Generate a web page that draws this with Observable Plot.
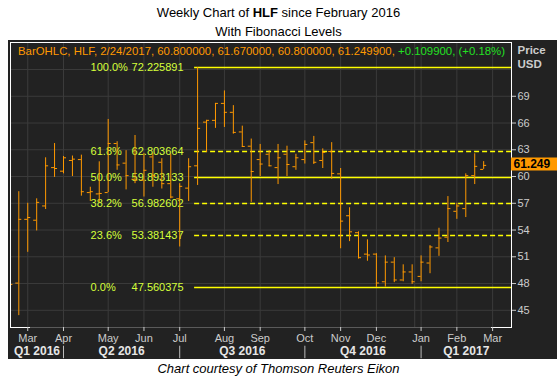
<!DOCTYPE html>
<html><head><meta charset="utf-8">
<script src="https://cdn.jsdelivr.net/npm/d3@7"></script>
<script src="https://cdn.jsdelivr.net/npm/@observablehq/plot@0.6"></script>
<style>
html,body{margin:0;padding:0;background:#fff;}
body{width:557px;height:376px;position:relative;overflow:hidden;font-family:"Liberation Sans",Arial,sans-serif;}
#title{position:absolute;left:0;top:3px;width:557px;text-align:center;font-size:13px;line-height:19px;color:#000;}
#panel{position:absolute;left:8px;top:40px;width:549px;height:319px;background:#222;}
#legend{position:absolute;left:18px;top:44px;font-size:11.4px;line-height:14px;white-space:nowrap;color:#ff9900;}
#caption{position:absolute;left:0;top:359px;width:557px;text-align:center;font-size:13px;line-height:20px;font-style:italic;color:#000;}
</style></head><body>
<div id="title">Weekly Chart of <b>HLF</b> since February 2016<br>With Fibonacci Levels</div>
<div id="panel"></div>
<div id="legend">BarOHLC, HLF, 2/24/2017, 60.800000, 61.670000, 60.800000, 61.249900, <span style="color:#22e022">+0.109900, (+0.18%)</span></div>
<div id="caption">Chart courtesy of Thomson Reuters Eikon</div>
<script>
// Weekly bars (week ending Friday)
const dates = ["2016-02-19","2016-02-26","2016-03-04","2016-03-11","2016-03-18","2016-03-25","2016-04-01","2016-04-08","2016-04-15","2016-04-22","2016-04-29",
"2016-05-06","2016-05-13","2016-05-20","2016-05-27","2016-06-03","2016-06-10","2016-06-17","2016-06-24","2016-07-01","2016-07-08",
"2016-07-15","2016-07-22","2016-07-29","2016-08-05","2016-08-12","2016-08-19","2016-08-26","2016-09-02","2016-09-09","2016-09-16",
"2016-09-23","2016-09-30","2016-10-07","2016-10-14","2016-10-21","2016-10-28","2016-11-04","2016-11-11","2016-11-18","2016-11-25",
"2016-12-02","2016-12-09","2016-12-16","2016-12-23","2016-12-30","2017-01-06","2017-01-13","2017-01-20","2017-01-27","2017-02-03",
"2017-02-10","2017-02-17","2017-02-24"];
const opens  = [46.5,48.05,55.2,55.1,56.7,61.0,60.6,61.8,61.9,58.2,58.05,
58.2,63.7,61.5,59.7,59.6,62.2,61.6,59.2,57.5,58.7,
61.2,66.1,66.3,68.2,67.2,65.0,63.4,61.9,62.5,61.0,
62.5,61.1,61.9,63.8,61.8,62.8,60.3,55.6,53.7,51.3,
51.3,48.2,50.4,48.4,49.3,48.8,50.3,52.0,53.2,56.1,
56.4,60.1,60.8];
const highs  = [48.3,58.3,57.0,57.5,62.1,63.7,62.25,62.3,62.4,58.8,61.65,
66.4,63.9,62.9,64.6,62.6,62.6,62.0,62.5,59.2,62.0,
72.225891,66.3,68.2,69.6,67.95,65.65,64.2,63.6,62.9,63.6,
63.4,62.5,64.0,64.5,63.1,63.8,60.9,56.5,53.8,52.9,
51.35,51.1,50.9,50.1,50.1,51.1,52.25,54.2,57.75,57.0,
60.3,62.55,61.67];
const lows   = [45.8,44.4,51.5,53.9,56.3,59.9,60.3,60.0,57.8,57.2,57.1,
58.2,60.7,58.5,59.2,57.7,58.8,58.6,57.5,52.1,57.2,
59.0,62.7,65.4,65.5,64.75,63.3,57.1,60.0,61.1,59.1,
60.0,60.7,61.4,61.35,60.9,59.7,51.9,52.7,50.75,50.5,
47.560375,47.6,48.1,48.2,47.9,48.2,49.1,51.05,52.6,55.2,
55.4,59.1,60.8];
const closes = [47.9,55.2,55.4,57.1,61.2,60.9,62.1,61.95,58.3,58.3,58.1,
63.7,61.3,60.1,59.6,60.7,60.1,59.2,57.7,58.9,61.1,
65.4,66.3,68.2,67.2,64.95,63.37,60.56,61.4,61.2,62.1,
61.35,62.1,63.6,61.6,62.7,60.35,55.0,53.8,50.9,51.2,
48.06,50.4,48.4,49.3,48.2,50.4,52.1,53.1,56.4,56.7,
60.1,61.14,61.2499];

// Fibonacci retracement levels
const fibPct    = [100.0, 61.8, 50.0, 38.2, 23.6, 0.0];
const fibValues = [72.225891, 62.803664, 59.893133, 56.982602, 53.381437, 47.560375];
const fibDashed = [false, true, false, true, true, false];

// Axis ticks and labels
const yTicks = [45, 48, 51, 54, 57, 60, 63, 66, 69];
const yGrid  = [45, 48, 51, 54, 57, 60, 63, 66, 69, 72];
const monthTicks = ["2016-03-04","2016-04-01","2016-05-06","2016-06-03","2016-07-01","2016-08-05","2016-09-02",
"2016-10-07","2016-11-04","2016-12-02","2017-01-06","2017-02-03","2017-03-03"];
const yearBreak = "2017-01-01";
const quarterBreaks = ["2016-04-01","2016-07-01","2016-10-07","2017-01-06"];
const quarterLabels = ["Q1 2016","Q2 2016","Q3 2016","Q4 2016","Q1 2017"];

const bars = dates.map((d, i) => ({date: new Date(d), open: opens[i], high: highs[i], low: lows[i], close: closes[i]}));
const fib = fibPct.map((p, i) => ({pct: p, value: fibValues[i], dashed: fibDashed[i]}));
const xStart = new Date("2016-02-19T12:00Z"), xEnd = new Date("2017-03-17T19:00Z");
const yLo = 43.07, yHi = 75.03;
const hiBar = bars.reduce((a, b) => b.high > a.high ? b : a);
const last = bars[bars.length - 1];
const qb = [xStart, ...quarterBreaks.map(d => new Date(d)), xEnd];
const quarters = quarterLabels.map((l, i) => ({label: l, mid: new Date((+qb[i] + +qb[i + 1]) / 2)}));

const orange = "#ff9900", fibLine = "#ffff00", fibText = "#d6ff3a", grid = "#3b3b3b";

const chart = Plot.plot({
  width: 549, height: 319,
  marginLeft: 2, marginRight: 46, marginTop: 2, marginBottom: 32,
  style: {background: "#222", color: "#cccccc", fontFamily: "'Liberation Sans', Arial, sans-serif", fontSize: "11px", overflow: "visible"},
  x: {type: "utc", domain: [xStart, xEnd]},
  y: {type: "linear", domain: [yLo, yHi]},
  marks: [
    Plot.gridY(yGrid, {stroke: grid, strokeOpacity: 1}),
    Plot.gridX([...monthTicks, yearBreak].map(d => new Date(d)), {stroke: grid, strokeOpacity: 1}),
    Plot.ruleY(fib.filter(d => !d.dashed), {y: "value", x1: () => hiBar.date, x2: () => xEnd, insetLeft: -3, stroke: fibLine, strokeWidth: 1.5}),
    Plot.ruleY(fib.filter(d => d.dashed), {y: "value", x1: () => hiBar.date, x2: () => xEnd, insetLeft: -3, stroke: fibLine, strokeWidth: 1.5, strokeDasharray: "5,3"}),
    Plot.text(fib, {x: () => hiBar.date, y: "value", text: d => d.pct.toFixed(1) + "%", dx: -107, textAnchor: "start", fill: fibText, fontSize: 11}),
    Plot.text(fib, {x: () => hiBar.date, y: "value", text: d => d.value.toFixed(6), dx: -14, textAnchor: "end", fill: fibText, fontSize: 11}),
    Plot.ruleX(bars, {x: "date", y1: "low", y2: "high", stroke: orange, clip: true}),
    Plot.ruleY(bars, {y: "open", x1: "date", x2: "date", insetLeft: -3, stroke: orange, clip: true}),
    Plot.ruleY(bars, {y: "close", x1: "date", x2: "date", insetRight: -3, stroke: orange, clip: true}),
    Plot.frame({stroke: "#ffffff"}),
    Plot.ruleY([yLo], {stroke: "#5a5a5a", insetLeft: 20, insetRight: 20}),
    Plot.axisY({anchor: "right", ticks: yTicks, tickSize: 4, tickPadding: 2, label: null, fontSize: 11}),
    Plot.axisX({ticks: monthTicks.map(d => new Date(d)), tickFormat: d3.utcFormat("%b"), tickSize: 4, tickPadding: 3, label: null, fontSize: 11}),
    Plot.ruleX(quarterBreaks.map(d => new Date(d)), {y1: yLo - 2.1, y2: yLo - 3.5, stroke: "#bbbbbb"}),
    Plot.text(quarters, {x: "mid", text: "label", frameAnchor: "bottom", dy: 27, fontWeight: "bold", fontSize: 12, fill: "#e6e6e6"}),
    Plot.text(["Price\nUSD"], {frameAnchor: "top-right", text: d => d, dx: 6, dy: 2, lineAnchor: "top", lineHeight: 1.2, textAnchor: "start", fontWeight: "bold", fontSize: 11.5, fill: "#cccccc"}),
    Plot.ruleY([last], {y: "close", x1: () => xEnd, x2: () => xEnd, insetRight: -46, dy: -1.5, stroke: orange, strokeWidth: 13}),
    Plot.text([last], {x: () => xEnd, y: "close", text: d => (Math.floor(d.close * 1000) / 1000).toFixed(3), dx: 2, dy: -1.5, textAnchor: "start", fontWeight: "bold", fontSize: 12, fill: "#000"})
  ]
});
document.getElementById("panel").appendChild(chart);
</script>
</body></html>
